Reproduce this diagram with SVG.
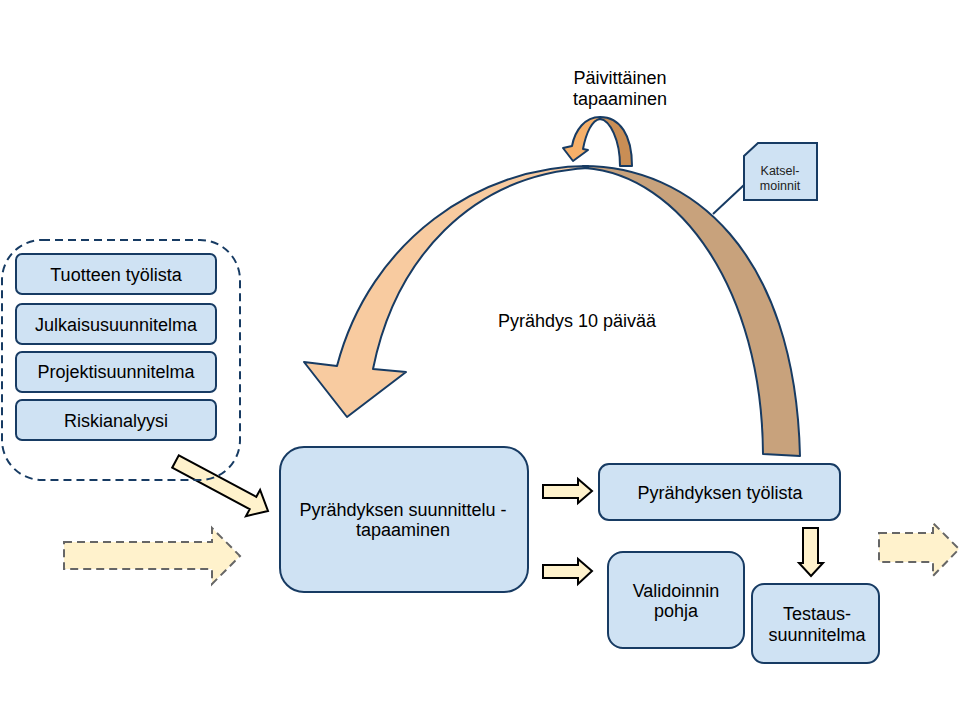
<svg xmlns="http://www.w3.org/2000/svg" width="960" height="720" viewBox="0 0 960 720">
<style>
text{font-family:"Liberation Sans",Arial,sans-serif;fill:#000;text-anchor:middle}
.t18{font-size:18px}
.box{fill:#CFE2F3;stroke:#173B63;stroke-width:2}
.blk{fill:#FFF2CC;stroke:#000;stroke-width:2;stroke-linejoin:miter}
.dsh{fill:#FFF2CC;stroke:#666;stroke-width:2;stroke-dasharray:8,5}
.nv{stroke:#173B63;stroke-width:2;stroke-linejoin:round}
</style>
<rect width="960" height="720" fill="#fff"/>

<g id="connectors">
  <!-- big cycle arc -->
  <path class="nv" fill="#C8A27C" d="M583,166 C690,166 795,250 800,456 L763,454 C762,290 680,175 585,168 Z"/>
  <path class="nv" fill="#F8CBA0" d="M588,166 C480,166 370,240 337,366 L304,362 L347,417 L406,372 L373,369 C395,260 470,175 588,168 Z"/>
  <!-- daily loop -->
  <path fill="#C98E55" d="M600,117 C620,117 632,135 632,166 L620,166 C620,140 610,120 600,119 Z"/>
  <path fill="#F5B06A" d="M600,117 C585,117 575,130 572,146 L563,148 L573,161 L588,150 L583,149 C586,133 592,120 600,119 Z"/>
  <path class="nv" fill="none" d="M620,166 C620,140 610,120 600,119 C592,120 586,133 583,149 L588,150 L573,161 L563,148 L572,146 C575,130 585,117 600,117 C620,117 632,135 632,166 Z"/>
  <!-- callout line -->
  <line x1="744" y1="185" x2="713" y2="214" stroke="#173B63" stroke-width="2"/>
  <!-- diagonal arrow -->
  <polygon class="blk" points="172.2,467.7 249.7,509.2 245.9,516.2 268,511 260.1,489.8 256.3,496.8 178.8,455.3"/>
  <!-- small right arrows -->
  <polygon class="blk" points="543,485 578,485 578,479 592,491 578,503 578,498 543,498"/>
  <polygon class="blk" points="543,565 578,565 578,559 592,571 578,584 578,578 543,578"/>
  <!-- down arrow -->
  <polygon class="blk" points="803,528 818,528 818,563 823,563 811,576 799,563 803,563"/>
  <!-- dashed in/out arrows -->
  <polygon class="dsh" points="64,542 212,542 212,528 240,556 212,584 212,569 64,569"/>
  <polygon class="dsh" points="879,533 933,533 933,523 959,549 933,576 933,562 879,562"/>
</g>

<g id="inputs-group">
  <rect x="2" y="240" width="238" height="240" rx="40" fill="none" stroke="#173B63" stroke-width="2" stroke-dasharray="8,5"/>
</g>
<g id="tuotteen-tyolista">
  <rect class="box" x="16" y="254" width="200" height="40" rx="6"/>
  <text class="t18" x="116" y="281">Tuotteen työlista</text>
</g>
<g id="julkaisusuunnitelma">
  <rect class="box" x="16" y="304" width="200" height="40" rx="6"/>
  <text class="t18" x="116" y="331">Julkaisusuunnitelma</text>
</g>
<g id="projektisuunnitelma">
  <rect class="box" x="16" y="352" width="200" height="40" rx="6"/>
  <text class="t18" x="116" y="378">Projektisuunnitelma</text>
</g>
<g id="riskianalyysi">
  <rect class="box" x="16" y="400" width="200" height="40" rx="6"/>
  <text class="t18" x="116" y="427">Riskianalyysi</text>
</g>

<g id="suunnittelu">
  <rect class="box" x="280" y="447" width="248" height="145" rx="24"/>
  <text class="t18" x="403" y="516">Pyrähdyksen suunnittelu -</text>
  <text class="t18" x="403" y="536">tapaaminen</text>
</g>
<g id="pyrahdyksen-tyolista">
  <rect class="box" x="599" y="464" width="241" height="56" rx="10"/>
  <text class="t18" x="720" y="499">Pyrähdyksen työlista</text>
</g>
<g id="validoinnin-pohja">
  <rect class="box" x="608" y="552" width="136" height="96" rx="15"/>
  <text class="t18" x="676" y="597">Validoinnin</text>
  <text class="t18" x="676" y="617">pohja</text>
</g>
<g id="testaussuunnitelma">
  <rect class="box" x="752" y="584" width="127" height="79" rx="12"/>
  <text class="t18" x="817" y="620">Testaus-</text>
  <text class="t18" x="817" y="641">suunnitelma</text>
</g>
<g id="katselmoinnit">
  <path class="box" d="M758,143 L817,143 L817,200 L744,200 L744,156 Z"/>
  <text x="780" y="175" font-size="12.5" style="fill:#222">Katsel-</text>
  <text x="780" y="190" font-size="12.5" style="fill:#222">moinnit</text>
</g>
<g id="labels">
  <text class="t18" x="620" y="84">Päivittäinen</text>
  <text class="t18" x="620" y="105">tapaaminen</text>
  <text class="t18" x="577" y="327">Pyrähdys 10 päivää</text>
</g>
</svg>
